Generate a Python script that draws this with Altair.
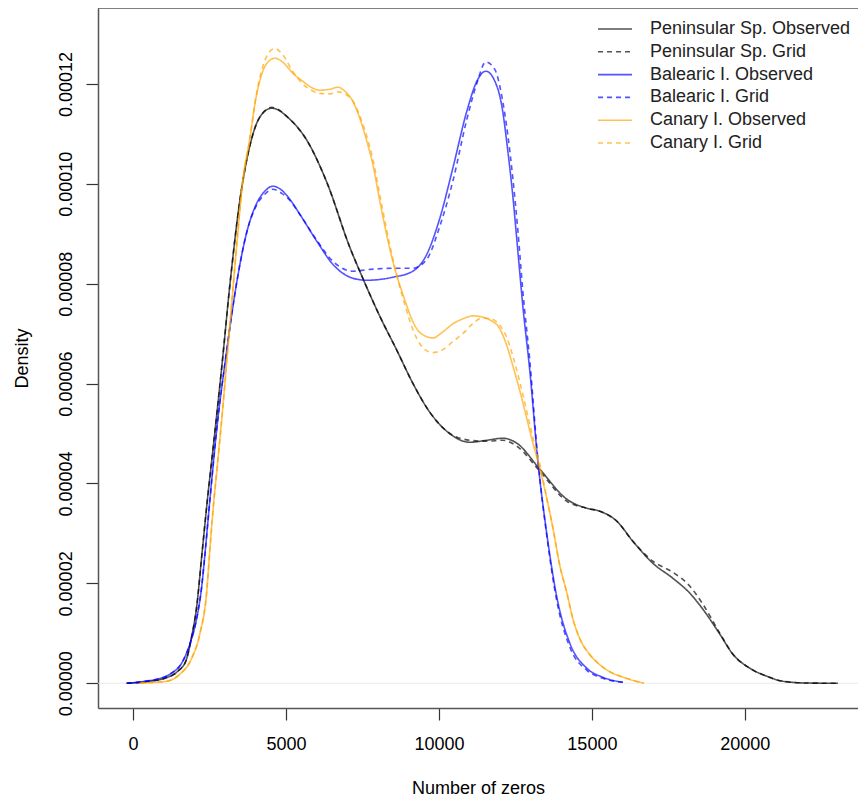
import altair as alt
import pandas as pd

series_names = ["Peninsular Sp. Observed", "Peninsular Sp. Grid",
                "Balearic I. Observed", "Balearic I. Grid",
                "Canary I. Observed", "Canary I. Grid"]
series_colors = ["black", "black", "blue", "blue", "orange", "orange"]

# density values are given in units of 1e-5
pen_x = [-206, 546, 1037, 1462, 1723, 1919, 2083, 2246, 2443, 2606, 2900, 3162, 3489, 3816,
         4143, 4535, 5124, 5680, 6334, 7086, 7511, 8067, 8623, 9146, 9702, 10258, 11010,
         11566, 12089, 12547, 13299, 14182, 14836, 15261, 15817, 16340, 16994, 17648,
         18204, 18629, 19185, 19610, 20166, 20722, 21245, 22030, 23044]
pen_obs = [0, 0.040, 0.100, 0.240, 0.441, 0.941, 1.542, 2.543, 3.744, 4.645, 6.327, 7.950,
           9.652, 10.753, 11.334, 11.514, 11.294, 10.873, 10.032, 8.730, 8.109, 7.349, 6.668,
           6.007, 5.427, 5.046, 4.826, 4.866, 4.906, 4.806, 4.285, 3.685, 3.504, 3.444,
           3.244, 2.843, 2.402, 2.102, 1.802, 1.482, 0.981, 0.581, 0.300, 0.140, 0.040,
           0.005, 0]
pen_grid = [0, 0.040, 0.100, 0.240, 0.441, 0.941, 1.542, 2.543, 3.744, 4.645, 6.327, 7.950,
            9.652, 10.753, 11.334, 11.530, 11.294, 10.873, 10.032, 8.730, 8.109, 7.349, 6.668,
            6.007, 5.427, 5.046, 4.866, 4.846, 4.866, 4.746, 4.245, 3.644, 3.504, 3.444,
            3.244, 2.843, 2.443, 2.223, 1.942, 1.582, 1.000, 0.581, 0.300, 0.140, 0.040,
            0.005, 0]

bal_x = [-206, 383, 775, 1200, 1625, 1887, 2083, 2246, 2345, 2508, 2737, 3064, 3391, 3718,
         4045, 4307, 4568, 4862, 5124, 5451, 6007, 6530, 7184, 7642, 8492, 9146, 9604, 10029,
         10454, 10912, 11239, 11533, 11828, 12057, 12253, 12416, 12580, 12743, 12972, 13234,
         13528, 13855, 14280, 14836, 15359, 16013]
bal_obs = [0, 0.040, 0.080, 0.180, 0.441, 0.841, 1.302, 1.942, 2.543, 3.644, 5.086, 6.668,
           8.030, 9.031, 9.612, 9.852, 9.952, 9.872, 9.692, 9.391, 8.851, 8.390, 8.110, 8.069,
           8.130, 8.250, 8.590, 9.311, 10.312, 11.454, 12.054, 12.255, 12.054, 11.554, 10.653,
           9.752, 8.650, 7.549, 6.247, 4.445, 2.984, 1.722, 0.801, 0.300, 0.120, 0.020]
bal_grid = [0, 0.040, 0.080, 0.180, 0.441, 0.841, 1.302, 1.942, 2.543, 3.644, 5.086, 6.668,
            8.030, 9.031, 9.580, 9.790, 9.890, 9.810, 9.670, 9.390, 8.870, 8.450, 8.250, 8.280,
            8.310, 8.310, 8.490, 9.150, 10.050, 11.290, 12.010, 12.440, 12.290, 11.750, 10.970,
            10.110, 9.070, 7.850, 6.450, 4.490, 2.940, 1.640, 0.720, 0.260, 0.100, 0.020]

can_x = [219, 710, 1102, 1527, 1919, 2181, 2410, 2508, 2606, 2770, 2933, 3097, 3260, 3424,
         3587, 3816, 4012, 4241, 4437, 4634, 4895, 5222, 5549, 5876, 6105, 6432, 6694, 6923,
         7184, 7413, 7642, 7838, 8067, 8492, 8819, 9277, 9539, 9800, 10127, 10454, 10781,
         11108, 11402, 11664, 11991, 12220, 12416, 12645, 12874, 13070, 13299, 13528, 13724,
         13953, 14182, 14378, 14607, 14934, 15261, 15588, 16079, 16700]
can_obs = [0, 0.020, 0.040, 0.180, 0.501, 0.981, 1.842, 2.643, 3.404, 4.445, 5.507, 6.688,
           7.849, 9.011, 10.052, 10.893, 11.694, 12.255, 12.455, 12.515, 12.435, 12.215,
           12.054, 11.914, 11.874, 11.894, 11.934, 11.854, 11.654, 11.314, 10.853, 10.392,
           9.652, 8.450, 7.789, 7.096, 6.956, 6.915, 7.036, 7.196, 7.296, 7.356, 7.336, 7.276,
           7.096, 6.756, 6.355, 5.855, 5.294, 4.814, 4.294, 3.694, 3.114, 2.353, 1.812, 1.292,
           0.891, 0.571, 0.370, 0.230, 0.110, 0]
can_grid = [0, 0.020, 0.040, 0.180, 0.501, 0.981, 1.842, 2.643, 3.404, 4.445, 5.507, 6.688,
            7.849, 9.011, 10.052, 10.893, 11.720, 12.350, 12.620, 12.710, 12.580, 12.250,
            12.000, 11.860, 11.810, 11.800, 11.840, 11.800, 11.660, 11.360, 10.950, 10.500,
            9.780, 8.500, 7.720, 6.900, 6.680, 6.620, 6.680, 6.840, 7.000, 7.200, 7.310, 7.300,
            7.170, 6.920, 6.550, 6.030, 5.440, 4.930, 4.380, 3.694, 3.114, 2.353, 1.812, 1.292,
            0.891, 0.571, 0.370, 0.230, 0.110, 0]

x_ticks = [0, 5000, 10000, 15000, 20000]
y_ticks = [0, 0.00002, 0.00004, 0.00006, 0.00008, 0.00010, 0.00012]

curves = [(series_names[0], pen_x, pen_obs), (series_names[1], pen_x, pen_grid),
          (series_names[2], bal_x, bal_obs), (series_names[3], bal_x, bal_grid),
          (series_names[4], can_x, can_obs), (series_names[5], can_x, can_grid)]
rows = []
for name, xs, ys in curves:
    for i, (xv, yv) in enumerate(zip(xs, ys)):
        rows.append({"series": name, "x": xv, "density": yv * 1e-5, "i": i})
df = pd.DataFrame(rows)
legend_df = pd.DataFrame({"series": series_names})

FONT = "Liberation Sans"
FRAME = "#555"
color_scale = alt.Scale(domain=series_names, range=series_colors)
dash_scale = alt.Scale(domain=series_names,
                       range=[[1, 0], [5, 4], [1, 0], [5, 4], [1, 0], [5, 4]])
x_scale = alt.Scale(domain=[-1145, 23699], nice=False, zero=False)
y_scale = alt.Scale(domain=[-0.00000495, 0.0001352], nice=False, zero=False)

zero_line = alt.Chart(pd.DataFrame({"z": [0]})).mark_rule(
    color="#e4e4e4", strokeWidth=0.8
).encode(y=alt.Y("z:Q", scale=y_scale, axis=None))

top_frame = alt.Chart(pd.DataFrame({"z": [0]})).mark_rule(
    color=FRAME, strokeWidth=1.5
).encode(y=alt.value(0))

lines = alt.Chart(df).mark_line(strokeWidth=1.6, opacity=0.68, interpolate="monotone").encode(
    x=alt.X("x:Q", scale=x_scale,
            axis=alt.Axis(values=x_ticks, format="d", title="Number of zeros",
                          tickSize=12, tickColor="#333", tickWidth=1.2,
                          domain=True, domainColor=FRAME, domainWidth=1.5,
                          grid=False, labelFontSize=18, labelFont=FONT, labelColor="black",
                          labelPadding=15, labelFlush=False, labelOverlap=False,
                          titleFontSize=18, titleFont=FONT, titleFontWeight="normal",
                          titleColor="black", titleY=85, titleBaseline="alphabetic")),
    y=alt.Y("density:Q", scale=y_scale,
            axis=alt.Axis(values=y_ticks, format=".5f", title="Density",
                          tickSize=12, tickColor="#333", tickWidth=1.2,
                          domain=True, domainColor=FRAME, domainWidth=1.5,
                          grid=False, labelFontSize=18, labelFont=FONT, labelColor="black",
                          labelAngle=270, labelAlign="center", labelBaseline="alphabetic",
                          labelPadding=15, labelFlush=False, labelOverlap=False,
                          titleFontSize=18, titleFont=FONT, titleFontWeight="normal",
                          titleColor="black", titleAngle=270, titleX=-71, titleY=350,
                          titleAlign="center", titleBaseline="alphabetic")),
    color=alt.Color("series:N", scale=color_scale, legend=None),
    strokeDash=alt.StrokeDash("series:N", scale=dash_scale, legend=None),
    detail="series:N",
    order="i:Q",
)

leg_y = alt.Y("series:N", sort=series_names,
              scale=alt.Scale(type="point", domain=series_names, range=[21, 135], padding=0),
              axis=None)
legend_lines = alt.Chart(legend_df).mark_rule(strokeWidth=1.6, opacity=0.68).encode(
    x=alt.value(500), x2=alt.value(534), y=leg_y,
    color=alt.Color("series:N", scale=color_scale, legend=None),
    strokeDash=alt.StrokeDash("series:N", scale=dash_scale, legend=None),
)
legend_text = alt.Chart(legend_df).mark_text(
    align="left", baseline="middle", fontSize=18, font=FONT, color="#222"
).encode(x=alt.value(552), y=leg_y, text="series:N")

chart = alt.layer(zero_line, top_frame, lines, legend_lines, legend_text).resolve_scale(
    y="independent"
).properties(
    width=760, height=700,
    autosize=alt.AutoSizeParams(type="none"),
    padding={"left": 90, "top": 0, "right": 0, "bottom": 89},
    background="white",
).configure_view(stroke=None)

chart.save("out.html", embed_options={"renderer": "svg", "actions": False})
